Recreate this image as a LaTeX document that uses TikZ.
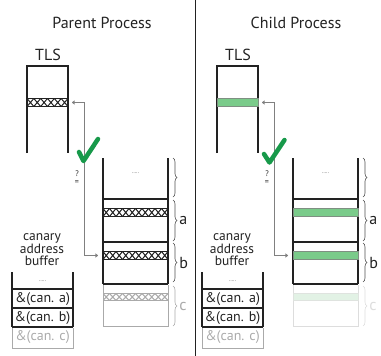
\documentclass[tikz,border=0pt]{standalone}
\usepackage{fontspec}
\setmainfont{PT Sans}
\usetikzlibrary{arrows.meta,decorations.pathreplacing}
\definecolor{ink}{HTML}{222222}
\definecolor{fadeg}{HTML}{AAAAAA}
\definecolor{fadel}{HTML}{DDDDDD}
\definecolor{chk}{HTML}{17994A}
\definecolor{gband}{HTML}{7ACB8A}
\definecolor{gbandl}{HTML}{E2F2E5}
\definecolor{gbord}{HTML}{7F8F82}
\definecolor{conncol}{HTML}{808080}
\newcommand\xhatch[6]{%
  \pgfmathsetmacro\xhp{(#2-#1)/#6}%
  \begin{scope}
    \clip (#1,#3) rectangle (#2,#4);
    \foreach \k in {0,...,#6}{
      \draw[#5,line width=1pt] ({#1+\k*\xhp},#3) -- ({#1+(\k+1)*\xhp},#4)
        ({#1+\k*\xhp},#4) -- ({#1+(\k+1)*\xhp},#3);
    }
  \end{scope}
  \draw[#5,line width=1.2pt] (#1,#3) -- (#2,#3) (#1,#4) -- (#2,#4);
}
\newcommand\gbandbox[6]{%
  \filldraw[fill=#5,draw=#6,line width=0.8pt] (#1,#3) rectangle (#2,#4);
}
\begin{document}
\begin{tikzpicture}[x=1pt,y=-1pt,
  box/.style={draw=ink,line width=1.1pt},
  fbox/.style={draw=fadeg,line width=1pt},
  lbox/.style={draw=fadel,line width=1pt},
  title/.style={font=\fontsize{16}{18}\selectfont,text=ink,inner sep=0pt},
  lab/.style={font=\fontsize{16}{18}\selectfont,text=ink,inner sep=0pt},
  cell/.style={font=\fontsize{14}{16}\selectfont,text=ink,inner sep=0pt},
  canlab/.style={align=center,font=\fontsize{13.5}{12.5}\selectfont,text=ink,inner sep=0pt},
  dots/.style={font=\tiny,text=ink,inner sep=0pt},
  conn/.style={draw=conncol,line width=0.9pt,{To[length=3pt,width=4pt]}-{To[length=3pt,width=4pt]}},
  chkmark/.style={draw=chk,line width=4.5pt,line cap=round,line join=round},
  brc/.style={draw=ink!80,line width=0.6pt,decorate,decoration={brace,amplitude=4pt}},
  qeq/.style={font=\fontsize{8}{8}\selectfont,text=ink,inner sep=0pt}
]
\useasboundingbox (0,0) rectangle (381,356);

% divider
\draw[ink,line width=1pt] (195,0) -- (195,356);

% ================= Parent =================
\node[title] (titP) at (102,23) {Parent Process};
\node[lab] (tlsLabP) at (48,55) {TLS};
\draw[box] (27,153) -- (27,66) -- (68,66) -- (68,153);
\xhatch{27}{68}{98.5}{106.5}{ink}{6}
\coordinate (tlsP) at (68,102.5);
\coordinate (bP) at (103,255.5);
\coordinate (vP) at (84.5,0);
\draw[conn] ([xshift=4pt]tlsP) -- (tlsP -| vP) -- (bP -| vP) -- ([xshift=-5pt]bP);
\draw[chkmark] (79,152) -- (83.5,161) -- (98,139);
\node[qeq] (qP) at (77,174) {?};
\node[qeq] (eP) at (77,183) {=};

% stack
\draw[box] (103,158) -- (103,284) (168,158) -- (168,284);
\draw[box] (103,199) -- (168,199) (103,242) -- (168,242) (103,284) -- (168,284);
\xhatch{103}{168}{208.5}{216.5}{ink}{10}
\xhatch{103}{168}{251.5}{259.5}{ink}{10}
\draw[fbox] (103,284.5) -- (103,326) -- (168,326) -- (168,284.5);
\xhatch{103}{168}{293.5}{300.5}{fadeg}{10}
\node[dots] (dP) at (135.5,173) {.....};
\draw[brc] (173,158) -- (173,197);
\draw[brc] (173,200) -- (173,241) node[midway,right=6pt,lab] (aP) {a};
\draw[brc] (173,243) -- (173,282) node[midway,right=6pt,lab] (bLP) {b};
\draw[brc,draw=fadeg] (173,286) -- (173,326) node[midway,right=6pt,lab,text=fadeg] (cP) {c};

% canary buffer
\node[canlab] (canP) at (42,250) {canary\\address\\buffer};
\draw[box] (12,272) -- (12,327) (73,272) -- (73,327);
\draw[box] (12,289) -- (73,289) (12,308) -- (73,308) (12,327) -- (73,327);
\draw[fbox] (12,327.5) -- (12,348) -- (73,348) -- (73,327.5);
\node[dots] (bdP) at (42.5,281) {.....};
\node[cell] (caP) at (42.5,299) {\&(can. a)};
\node[cell] (cbP) at (42.5,318) {\&(can. b)};
\node[cell,text=fadeg] (ccP) at (42.5,337.5) {\&(can. c)};

% ================= Child =================
\node[title] (titC) at (296,23) {Child Process};
\node[lab] (tlsLabC) at (238,55) {TLS};
\draw[box] (217,153) -- (217,66) -- (258,66) -- (258,153);
\gbandbox{217}{258}{98.5}{106.5}{gband}{gbord}
\coordinate (tlsC) at (258,102.5);
\coordinate (bC) at (293,255.5);
\coordinate (vC) at (274.5,0);
\draw[conn] ([xshift=4pt]tlsC) -- (tlsC -| vC) -- (bC -| vC) -- ([xshift=-5pt]bC);
\draw[chkmark] (264,154) -- (269.5,162.5) -- (284.5,140);
\node[qeq] (qC) at (267,174) {?};
\node[qeq] (eC) at (267,183) {=};

% stack
\draw[box] (293,158) -- (293,284) (358,158) -- (358,284);
\draw[box] (293,199) -- (358,199) (293,242) -- (358,242);
\gbandbox{293}{358}{208.5}{216.5}{gband}{gbord}
\gbandbox{293}{358}{251.5}{259.5}{gband}{gbord}
\draw[lbox] (293,285) -- (293,326) -- (358,326) -- (358,285);
\gbandbox{293}{358}{293.5}{300.5}{gbandl}{fadel!70!gbandl}
\draw[box] (293,284) -- (358,284);
\node[dots] (dC) at (325.5,173) {.....};
\draw[brc] (363,158) -- (363,197);
\draw[brc] (363,200) -- (363,241) node[midway,right=6pt,lab] (aC) {a};
\draw[brc] (363,243) -- (363,282) node[midway,right=6pt,lab] (bLC) {b};
\draw[brc,draw=fadel] (363,286) -- (363,326) node[midway,right=6pt,lab,text=fadel] (cC) {c};

% canary buffer
\node[canlab] (canC) at (232,250) {canary\\address\\buffer};
\draw[box] (202,272) -- (202,327) (263,272) -- (263,327);
\draw[box] (202,289) -- (263,289) (202,308) -- (263,308) (202,327) -- (263,327);
\draw[fbox] (202,327.5) -- (202,348) -- (263,348) -- (263,327.5);
\node[dots] (bdC) at (232.5,281) {.....};
\node[cell] (caC) at (232.5,299) {\&(can. a)};
\node[cell] (cbC) at (232.5,318) {\&(can. b)};
\node[cell,text=fadeg] (ccC) at (232.5,337.5) {\&(can. c)};
\end{tikzpicture}
\end{document}
